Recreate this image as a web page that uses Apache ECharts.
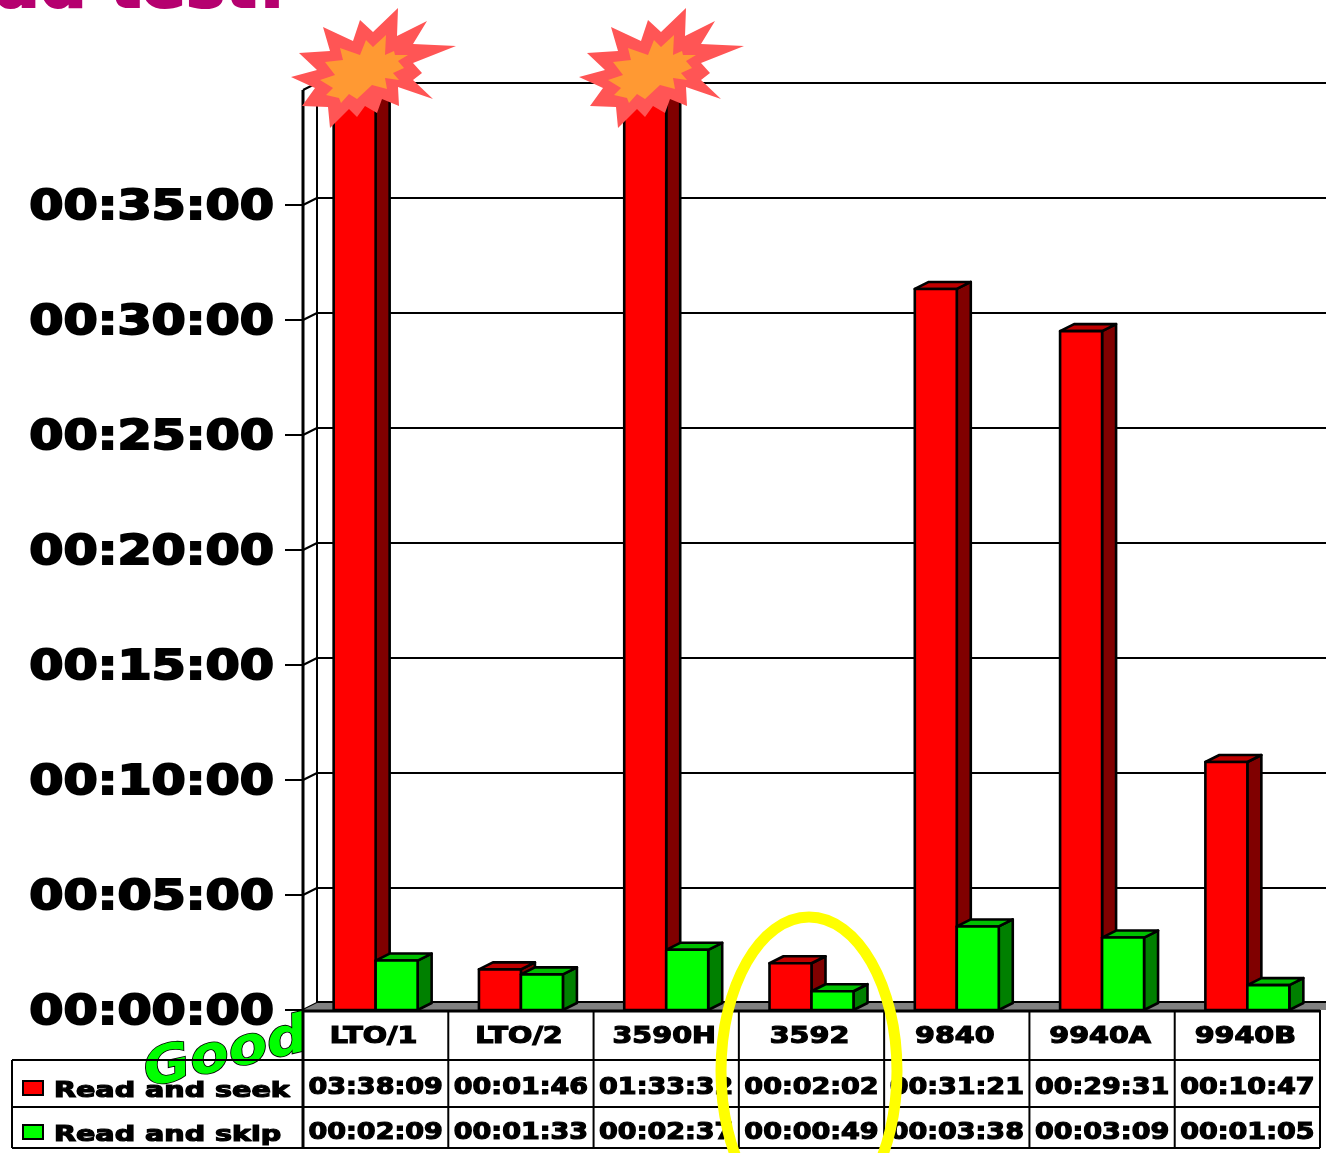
<!DOCTYPE html>
<html><head><meta charset="utf-8">
<style>html,body{margin:0;padding:0;background:#fff;overflow:hidden}#c{width:1326px;height:1153px}</style>
<script src="https://cdn.jsdelivr.net/npm/echarts@6/dist/echarts.min.js"></script>
</head><body><div id="c"></div>
<script>
const categories = ['LTO/1','LTO/2','3590H','3592','9840','9940A','9940B'];
const readSeekSeconds = [13089,106,5612,122,1881,1771,647];
const readSkipSeconds = [129,93,157,49,218,189,65];
const readSeekLabels = ['03:38:09','00:01:46','01:33:32','00:02:02','00:31:21','00:29:31','00:10:47'];
const readSkipLabels = ['00:02:09','00:01:33','00:02:37','00:00:49','00:03:38','00:03:09','00:01:05'];
const yTickValues = [0,300,600,900,1200,1500,1800,2100,2400];
const yTickLabels = ['00:00:00','00:05:00','00:10:00','00:15:00','00:20:00','00:25:00','00:30:00','00:35:00'];
const legendNames = ['Read and seek','Read and skip'];

const Y_MAX = 2400, DX = 14, DY = 7;
const GRID = {left:303, top:90, width:1017, height:920};
const FACE = '"DejaVu Sans"';
const line = (x1,y1,x2,y2,w) => ({type:'line',shape:{x1,y1,x2,y2},style:{stroke:'#000',lineWidth:w||2}});
const txt = (x,y,text,size,sx,align,sw) => ({type:'text',x,y,scaleX:sx,style:{x:0,y:0,text,font:'bold '+size+'px '+FACE,fill:'#000',stroke:'#000',lineWidth:sw,textAlign:align||'center',textVerticalAlign:'middle'}});

function barRenderer(colors, side){
  return function(params, api){
    const i = api.value(0), v = Math.min(api.value(1), Y_MAX);
    const top = api.coord([i, v]), base = api.coord([i, 0]);
    const band = api.size([1,0])[0], w = band*0.289;
    const x0 = side < 0 ? base[0]-w : base[0], x1 = x0+w;
    const s = {stroke:'#000',lineWidth:2.6,lineJoin:'round'};
    return {type:'group',children:[
      {type:'polygon',shape:{points:[[x1,top[1]],[x1+DX,top[1]-DY],[x1+DX,base[1]-DY],[x1,base[1]]]},style:Object.assign({fill:colors[1]},s)},
      {type:'polygon',shape:{points:[[x0,top[1]],[x0+DX,top[1]-DY],[x1+DX,top[1]-DY],[x1,top[1]]]},style:Object.assign({fill:colors[2]},s)},
      {type:'rect',shape:{x:x0,y:top[1],width:w,height:base[1]-top[1]},style:Object.assign({fill:colors[0]},s)}
    ]};
  };
}
function frameRenderer(params, api){
  const v = api.value(0), p = api.coord([0, v]), x = GRID.left;
  const kids = [line(x,p[1],x+DX,p[1]-DY,2), line(x+DX,p[1]-DY,1340,p[1]-DY, v===0?4:2)];
  if (v < Y_MAX) {
    kids.push(line(x-18,p[1],x,p[1],2));
    kids.push(txt(274,p[1]+3.5,yTickLabels[params.dataIndex],41,1.2,'right',2));
  } else {
    const b = api.coord([0,0]);
    kids.push(line(x,p[1],x,b[1],3), line(x+DX,p[1]-DY,x+DX,b[1]-DY,2));
    kids.unshift({type:'polygon',shape:{points:[[x,b[1]],[x+DX,b[1]-DY],[1340,b[1]-DY],[1340,b[1]]]},style:{fill:'#808080'}});
  }
  return {type:'group',children:kids};
}
function tableRenderer(params, api){
  const i = api.value(0), cx = api.coord([i,0])[0], band = api.size([1,0])[0], xr = cx+band/2;
  const kids = [
    txt(cx-2,1037,categories[i],22.5,1.27,'center',1.2),
    txt(cx,1088,readSeekLabels[i],22.5,1.2,'center',1.2),
    txt(cx,1133,readSkipLabels[i],22.5,1.2,'center',1.2),
    line(xr,1010,xr,1148,2)
  ];
  if (i === 0) {
    kids.push(line(cx-band/2,1010,cx-band/2,1148,3));
    kids.push(line(cx-band/2,1011,1320,1011,3));
    kids.push(line(12,1060,1320,1060,2), line(12,1107,1320,1107,2), line(12,1148,1320,1148,2), line(12,1060,12,1148,2));
  }
  return {type:'group',children:kids};
}
function legendRenderer(params, api){
  const i = params.dataIndex, y = i===0?1089:1133, c = i===0?'#ff0000':'#00ff00';
  return {type:'group',children:[
    {type:'rect',shape:{x:23,y:y-8,width:20,height:14},style:{fill:c,stroke:'#000',lineWidth:2}},
    txt(54,y+3,legendNames[i],21,1.36,'left',1.2)
  ]};
}

const starOuter = [[398,8],[373,32],[360,20],[353,41],[323,27],[330,51],[299,53],[317,70],[291,77],[315,88],[302,106],[328,107],[330,128],[349,109],[357,117],[365,106],[377,113],[382,99],[399,106],[398,87],[433,99],[413,80],[422,73],[413,63],[456,46],[413,44],[427,21],[397,36]];
const starInner = [[386,35],[373,47],[366,40],[360,55],[340,48],[343,60],[325,62],[335,75],[320,80],[333,88],[326,95],[339,98],[341,103],[349,94],[357,99],[372,85],[387,89],[385,78],[399,80],[393,73],[404,68],[398,61],[408,55],[395,55],[394,51],[385,55]];
const star = dx => ({type:'group',x:dx,z:30,children:[
  {type:'polygon',z:30,shape:{points:starOuter},style:{fill:'#ff5555'}},
  {type:'polygon',z:31,shape:{points:starInner},style:{fill:'#ff9933'}}
]});

const chart = echarts.init(document.getElementById('c'),null,{renderer:'canvas'});
chart.setOption({
  animation:false,
  backgroundColor:'#fff',
  grid:GRID,
  xAxis:{type:'category',data:categories,show:false},
  yAxis:{type:'value',min:0,max:Y_MAX,interval:300,show:false},
  series:[
    {type:'custom',name:'frame',z:1,silent:true,data:yTickValues.map(v=>[v]),encode:{y:0},renderItem:frameRenderer},
    {type:'custom',name:'Read and seek',z:3,data:readSeekSeconds.map((v,i)=>[i,v]),encode:{x:0,y:1},renderItem:barRenderer(['#ff0000','#800000','#c00000'],-1)},
    {type:'custom',name:'Read and skip',z:4,data:readSkipSeconds.map((v,i)=>[i,v]),encode:{x:0,y:1},renderItem:barRenderer(['#00ff00','#008000','#00c000'],1)},
    {type:'custom',name:'legend',z:5,silent:true,data:legendNames.map((n,i)=>[i]),encode:{y:0},renderItem:legendRenderer},
    {type:'custom',name:'table',z:9,silent:true,data:categories.map((n,i)=>[i]),encode:{x:0},renderItem:tableRenderer}
  ],
  graphic:{elements:[
    {type:'text',z:1,x:287,y:23,style:{text:'Read test!',font:'bold 66px '+FACE,fill:'#b5006f',stroke:'#b5006f',lineWidth:2,textAlign:'right',textVerticalAlign:'bottom'}},
    {type:'text',z:6,x:226,y:1055,rotation:13*Math.PI/180,scaleX:1.22,scaleY:1.1,style:{x:0,y:0,text:'Good',font:'italic bold 47px '+FACE,fill:'#00ff00',stroke:'#000',lineWidth:1.5,textAlign:'center',textVerticalAlign:'middle'}},
    {type:'rect',z:7,shape:{x:304,y:1012,width:144,height:47},style:{fill:'#fff'}},
    star(0), star(288),
    {type:'ellipse',z:40,shape:{cx:809,cy:1071,rx:88,ry:154},style:{fill:'none',stroke:'#ffff00',lineWidth:11}}
  ]}
});
</script></body></html>
